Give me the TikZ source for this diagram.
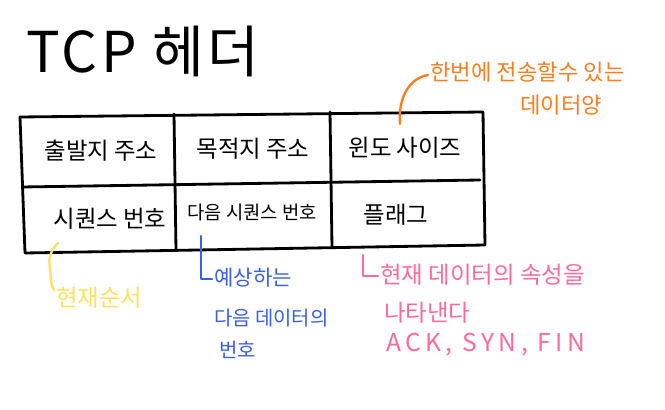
\documentclass[tikz,border=0pt]{standalone}
\usepackage{fontspec}
\newfontfamily\hanfont{Noto Sans CJK KR}
\usepackage{tkz-euclide}
\usetikzlibrary{calc}
\definecolor{NoteOrange}{rgb}{1,0.49,0.12}
\definecolor{NoteYellow}{rgb}{1,0.88,0.38}
\definecolor{NoteBlue}{rgb}{0.22,0.37,0.94}
\definecolor{NotePink}{rgb}{1,0.42,0.62}

\begin{document}
\begin{tikzpicture}[x=.03cm,y=.03cm,
  cell/.style={font=\hanfont\fontsize{20}{22}\selectfont},
  note/.style={font=\hanfont\fontsize{19}{21}\selectfont,anchor=west,inner sep=0pt},
  mark line/.style={line width=2pt,line cap=round,line join=round}]
\useasboundingbox (0,0) rectangle (665,409);
\tkzSetUpLine[line width=2.4pt,color=black]

\tkzDefPoints{20/292/A,483/297/B,485/164/C,25/156/D}
\tkzDefPoints{22/222/L,480/229/R}
\tkzDefPoints{174/295/U1,176/159/V1,330/297/U2,332/162/V2}

\tkzDrawPolygon[line join=round](A,B,C,D)
\tkzDrawSegments(L,R U1,V1 U2,V2)

% title
\node (title) at (143,358) {\hanfont\fontsize{48}{52}\selectfont\addfontfeature{LetterSpace=6}TCP 헤더};

% cells
\node[cell] (src) at (101,258) {출발지 주소};
\node[cell] (dst) at (253,260) {목적지 주소};
\node[cell] (win) at (405,261) {윈도 사이즈};
\node[cell] (seq) at (110,190) {시퀀스 번호};
\node[cell,font=\hanfont\fontsize{16}{18}\selectfont] (ack) at (252,197) {다음 시퀀스 번호};
\node[cell] (flag) at (396,194) {플래그};

% window size note
\node[note,text=NoteOrange] (winA) at (430,337) {한번에 전송할수 있는};
\node[note,text=NoteOrange] (winB) at (520,304) {데이터양};
\coordinate (winS) at (400,285);
\draw[mark line,NoteOrange] (winS) to[out=95,in=190] ($(winA.west)+(-2,-3)$);

% sequence note
\node[note,text=NoteYellow,font=\hanfont\fontsize{20}{22}\selectfont] (seqA) at (56,111) {현재순서};
\coordinate (seqS) at (58,166);
\draw[mark line,NoteYellow] (seqS) to[out=225,in=100] (50,140) to[out=280,in=120] ($(seqA.west)+(-2,8)$);

% ack note
\node[note,text=NoteBlue,font=\hanfont\fontsize{18}{20}\selectfont] (ackA) at (214,131) {예상하는};
\node[note,text=NoteBlue,font=\hanfont\fontsize{17}{19}\selectfont] (ackB) at (214,91) {다음 데이터의};
\node[note,text=NoteBlue,font=\hanfont\fontsize{17}{19}\selectfont] (ackC) at (219,59) {번호};
\coordinate (ackS) at (201,173);
\draw[mark line,NoteBlue] (ackS) |- ($(ackA.west)+(-2,-1)$);

% flag note
\node[note,text=NotePink,font=\hanfont\fontsize{20}{22}\selectfont] (flagA) at (380,134) {현재 데이터의 속성을};
\node[note,text=NotePink,font=\hanfont\fontsize{20}{22}\selectfont] (flagB) at (384,96) {나타낸다};
\node[note,text=NotePink,font=\hanfont\fontsize{21}{23}\selectfont\addfontfeature{LetterSpace=18}] (flagC) at (386,64) {ACK, SYN, FIN};
\coordinate (flagS) at (363,154);
\draw[mark line,NotePink] (flagS) |- ($(flagA.west)+(-2,-1)$);

\end{tikzpicture}
\end{document}
